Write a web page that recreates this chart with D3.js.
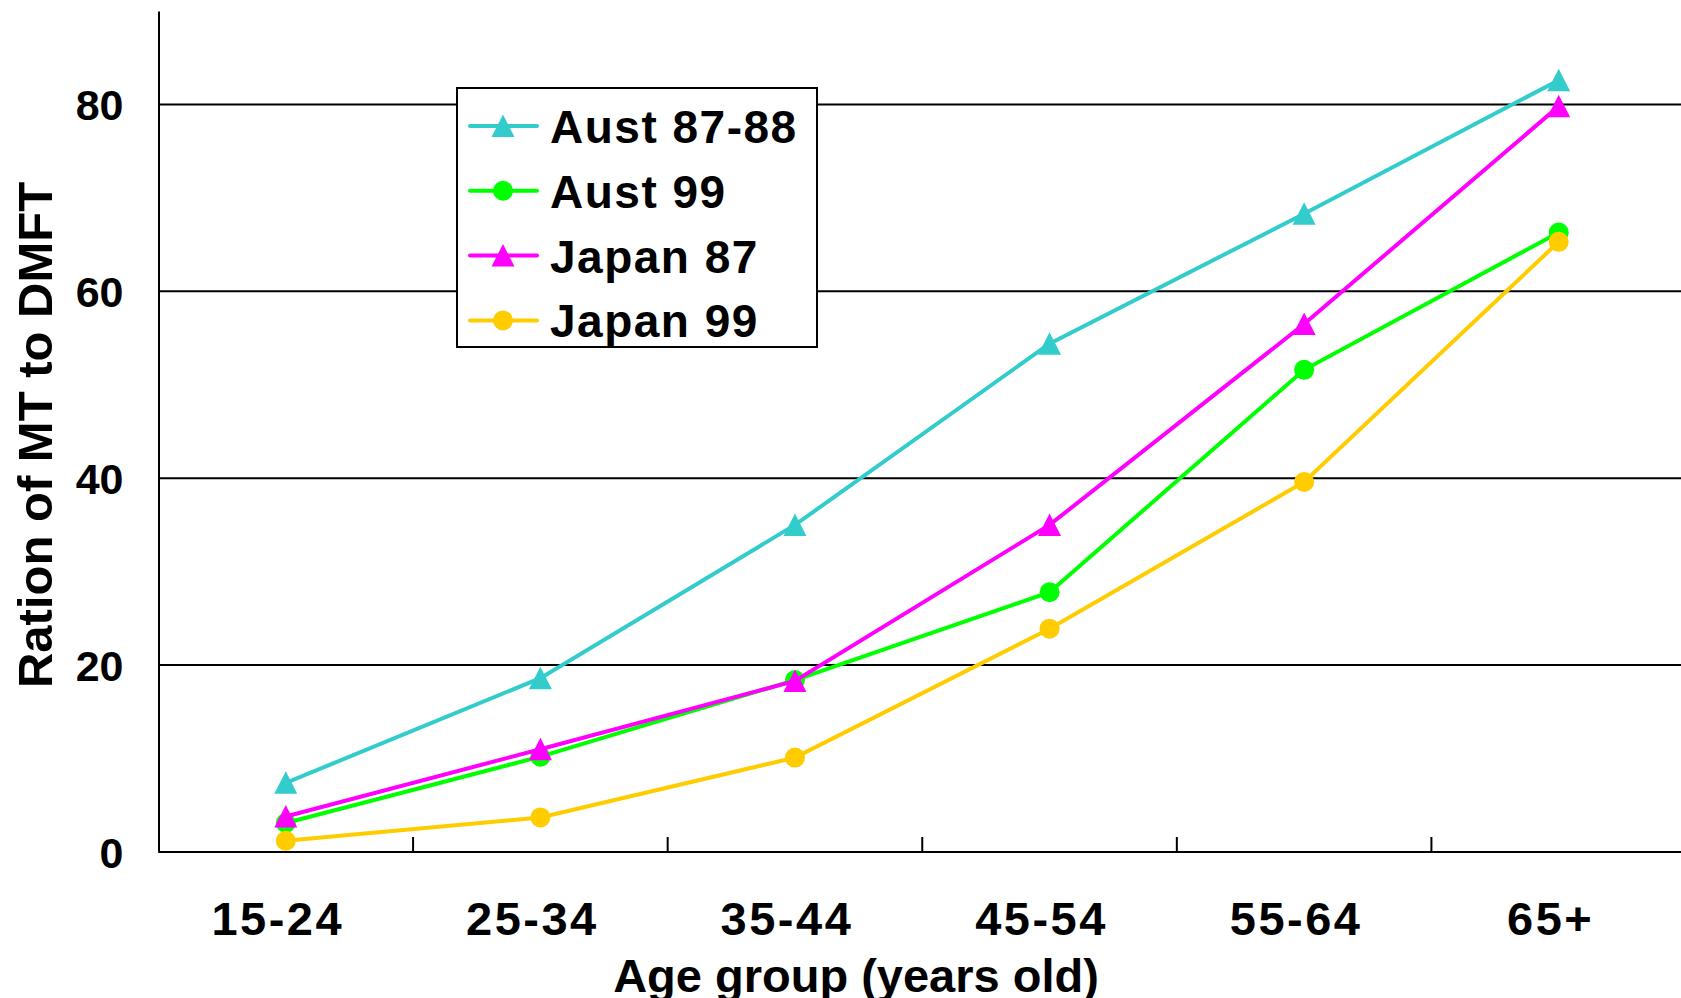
<!DOCTYPE html>
<html>
<head>
<meta charset="utf-8">
<script src="https://cdn.jsdelivr.net/npm/d3@7"></script>
<style>
  html, body { margin: 0; padding: 0; background: #fff; overflow: hidden; }
  svg { display: block; }
  text { font-family: "Liberation Sans", Arial, sans-serif; font-weight: bold; fill: #000; }
</style>
</head>
<body>
<svg id="chart" width="1681" height="998"></svg>
<script>
// Age groups along the x axis
const categories = ["15-24", "25-34", "35-44", "45-54", "55-64", "65+"];

// Ratio of MT to DMFT (%) per age group
const aust8788 = [7.4, 18.6, 35.0, 54.4, 68.3, 82.6];
const aust99   = [3.1, 10.2, 18.4, 27.8, 51.6, 66.3];
const japan87  = [3.8, 11.0, 18.3, 35.0, 56.5, 79.8];
const japan99  = [1.2, 3.7, 10.1, 23.9, 39.6, 65.3];

const seriesNames = ["Aust 87-88", "Aust 99", "Japan 87", "Japan 99"];
const seriesValues = [aust8788, aust99, japan87, japan99];
const seriesColors = ["#33CCCC", "#00FF00", "#FF00FF", "#FFCC00"];
const seriesMarkers = ["triangle", "circle", "triangle", "circle"];

const yTicks = [0, 20, 40, 60, 80];
const yTitle = "Ration of MT to DMFT";
const xTitle = "Age group (years old)";

const svg = d3.select("#chart");

const plot = { left: 158.5, right: 1686, top: 11, bottom: 852 };

const x = d3.scaleBand().domain(categories).range([plot.left, plot.right]).padding(0);
const y = d3.scaleLinear().domain([0, 90]).range([plot.bottom, plot.top]);

// Horizontal gridlines
svg.append("g")
  .selectAll("line")
  .data(yTicks.filter(d => d > 0))
  .join("line")
  .attr("x1", plot.left).attr("x2", 1681)
  .attr("y1", d => y(d)).attr("y2", d => y(d))
  .attr("stroke", "#000").attr("stroke-width", 2);

// Y axis
const yAxis = svg.append("g")
  .attr("transform", `translate(${plot.left},0)`)
  .call(d3.axisLeft(y).tickValues(yTicks).tickSize(0).tickPadding(35).tickFormat(d3.format("d")));
yAxis.select(".domain").attr("stroke", "#000").attr("stroke-width", 2);
yAxis.selectAll("text")
  .attr("font-size", 43)
  .attr("font-family", "Liberation Sans, Arial, sans-serif")
  .attr("font-weight", "bold")
  .attr("dy", "0.36em");

// X axis with inward ticks on band boundaries
const xAxisG = svg.append("g")
  .attr("transform", `translate(0,${plot.bottom})`);
xAxisG.append("line")
  .attr("x1", plot.left).attr("x2", 1681)
  .attr("y1", 0).attr("y2", 0)
  .attr("stroke", "#000").attr("stroke-width", 2);
xAxisG.selectAll("line.tick")
  .data(categories.slice(1))
  .join("line")
  .attr("class", "tick")
  .attr("x1", d => x(d)).attr("x2", d => x(d))
  .attr("y1", 0).attr("y2", -15)
  .attr("stroke", "#000").attr("stroke-width", 2);
xAxisG.selectAll("text")
  .data(categories)
  .join("text")
  .attr("x", d => x(d) + x.bandwidth() / 2 - 8)
  .attr("y", 83)
  .attr("text-anchor", "middle")
  .attr("font-size", 47)
  .attr("letter-spacing", 2.5)
  .text(d => d);

// Series lines and markers
const line = d3.line()
  .x((d, i) => x(categories[i]) + x.bandwidth() / 2)
  .y(d => y(d));

const triPath = "M0,-11.5L11.5,11L-11.5,11Z";

function drawMarker(sel, type, color) {
  if (type === "triangle") {
    sel.append("path").attr("d", triPath).attr("fill", color);
  } else {
    sel.append("circle").attr("r", 10).attr("fill", color);
  }
}

seriesValues.forEach((vals, s) => {
  const g = svg.append("g");
  g.append("path")
    .datum(vals)
    .attr("d", line)
    .attr("fill", "none")
    .attr("stroke", seriesColors[s])
    .attr("stroke-width", 4);
  g.selectAll("g.pt")
    .data(vals)
    .join("g")
    .attr("class", "pt")
    .attr("transform", (d, i) => `translate(${x(categories[i]) + x.bandwidth() / 2},${y(d)})`)
    .each(function () { drawMarker(d3.select(this), seriesMarkers[s], seriesColors[s]); });
});

// Legend
const legend = svg.append("g").attr("transform", "translate(457,88)");
legend.append("rect")
  .attr("x", 0).attr("y", 0)
  .attr("width", 360).attr("height", 259)
  .attr("fill", "#fff").attr("stroke", "#000").attr("stroke-width", 2);
seriesNames.forEach((name, s) => {
  const row = legend.append("g").attr("transform", `translate(0,${38 + s * 64.8})`);
  row.append("line")
    .attr("x1", 13).attr("x2", 80)
    .attr("y1", 0).attr("y2", 0)
    .attr("stroke", seriesColors[s]).attr("stroke-width", 4)
    .attr("stroke-linecap", "round");
  drawMarker(row.append("g").attr("transform", "translate(46,0)"), seriesMarkers[s], seriesColors[s]);
  row.append("text")
    .attr("x", 93).attr("y", 17)
    .attr("font-size", 46)
    .attr("letter-spacing", 1.5)
    .text(name);
});

// Axis titles
svg.append("text")
  .attr("transform", `translate(52,435) rotate(-90)`)
  .attr("text-anchor", "middle")
  .attr("font-size", 49)
  .text(yTitle);

svg.append("text")
  .attr("x", 856).attr("y", 992)
  .attr("text-anchor", "middle")
  .attr("font-size", 47)
  .text(xTitle);
</script>
</body>
</html>
